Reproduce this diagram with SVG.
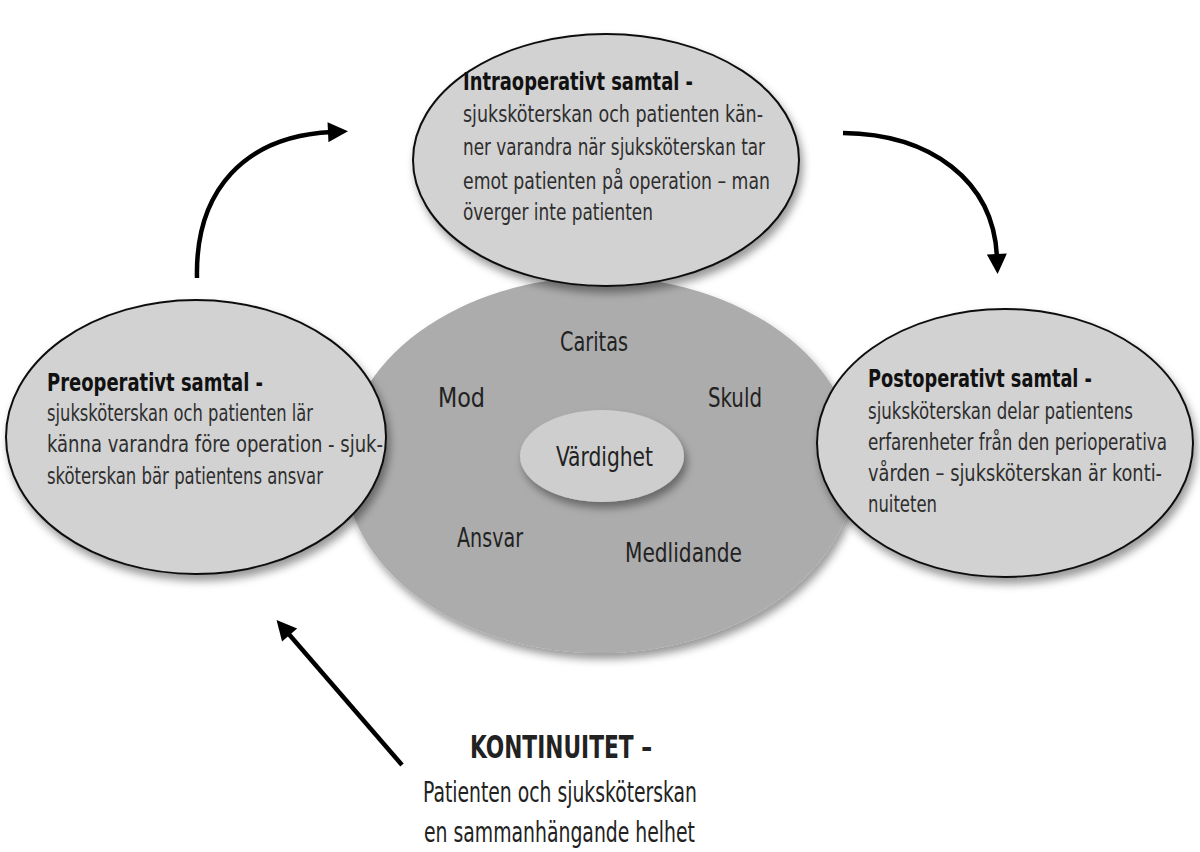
<svg xmlns="http://www.w3.org/2000/svg" width="1200" height="852" viewBox="0 0 1200 852">
  <defs>
    <filter id="shadow" x="-20%" y="-20%" width="150%" height="150%">
      <feDropShadow dx="3" dy="6" stdDeviation="4" flood-color="#000" flood-opacity="0.4"/>
    </filter>
    <marker id="head" viewBox="0 0 10 10" refX="2" refY="5" markerWidth="22" markerHeight="20" markerUnits="userSpaceOnUse" orient="auto">
      <path d="M0,0 L10,5 L0,10 Z" fill="#000"/>
    </marker>
    <style>
      .stage { fill: #d2d2d2; stroke: #111; stroke-width: 2; filter: url(#shadow); }
      .core { fill: #acacac; filter: url(#shadow); }
      .heart { fill: #cecece; filter: url(#shadow); }
      text { font-family: "Liberation Sans Narrow", "DejaVu Sans Condensed", "Liberation Sans", sans-serif; }
      .title { font-size: 25px; fill: #111; font-weight: 600; }
      .body { font-size: 23px; fill: #2e2e2e; }
      .value { font-size: 27px; fill: #222; }
      .big { font-size: 32px; fill: #222; font-weight: 700; }
      .sub { font-size: 29px; fill: #222; }
      .arrow { fill: none; stroke: #000; stroke-width: 4.5; stroke-linecap: butt; marker-end: url(#head); }
    </style>
  </defs>

  <rect width="1200" height="852" fill="#fff"/>

  <!-- central field of values -->
  <g id="values">
    <ellipse class="core" cx="600" cy="465" rx="256" ry="188"/>
    <text class="value" x="560" y="351" textLength="68" lengthAdjust="spacingAndGlyphs">Caritas</text>
    <text class="value" x="438" y="407" textLength="47" lengthAdjust="spacingAndGlyphs">Mod</text>
    <text class="value" x="708" y="407" textLength="54" lengthAdjust="spacingAndGlyphs">Skuld</text>
    <text class="value" x="457" y="547" textLength="66" lengthAdjust="spacingAndGlyphs">Ansvar</text>
    <text class="value" x="625" y="562" textLength="117" lengthAdjust="spacingAndGlyphs">Medlidande</text>
  </g>

  <g id="vardighet">
    <ellipse class="heart" cx="602" cy="456" rx="82" ry="46"/>
    <text class="value" x="556" y="466" textLength="97" lengthAdjust="spacingAndGlyphs">Värdighet</text>
  </g>

  <!-- three conversation stages -->
  <g id="preoperativt">
    <ellipse class="stage" cx="196" cy="437" rx="190" ry="137"/>
    <text class="title" x="47" y="391" textLength="216" lengthAdjust="spacingAndGlyphs">Preoperativt samtal -</text>
    <text class="body" x="47" y="421" textLength="266" lengthAdjust="spacingAndGlyphs">sjuksköterskan och patienten lär</text>
    <text class="body" x="47" y="452" textLength="336" lengthAdjust="spacingAndGlyphs">känna varandra före operation - sjuk-</text>
    <text class="body" x="47" y="484" textLength="276" lengthAdjust="spacingAndGlyphs">sköterskan bär patientens ansvar</text>
  </g>

  <g id="intraoperativt">
    <ellipse class="stage" cx="606" cy="160" rx="193" ry="126"/>
    <text class="title" x="463" y="90" textLength="230" lengthAdjust="spacingAndGlyphs">Intraoperativt samtal -</text>
    <text class="body" x="463" y="122" textLength="300" lengthAdjust="spacingAndGlyphs">sjuksköterskan och patienten kän-</text>
    <text class="body" x="463" y="155" textLength="302" lengthAdjust="spacingAndGlyphs">ner varandra när sjuksköterskan tar</text>
    <text class="body" x="463" y="189" textLength="307" lengthAdjust="spacingAndGlyphs">emot patienten på operation – man</text>
    <text class="body" x="463" y="220" textLength="190" lengthAdjust="spacingAndGlyphs">överger inte patienten</text>
  </g>

  <g id="postoperativt">
    <ellipse class="stage" cx="1005" cy="443" rx="188" ry="134"/>
    <text class="title" x="868" y="387" textLength="224" lengthAdjust="spacingAndGlyphs">Postoperativt samtal -</text>
    <text class="body" x="868" y="419" textLength="265" lengthAdjust="spacingAndGlyphs">sjuksköterskan delar patientens</text>
    <text class="body" x="868" y="450" textLength="299" lengthAdjust="spacingAndGlyphs">erfarenheter från den perioperativa</text>
    <text class="body" x="868" y="481" textLength="294" lengthAdjust="spacingAndGlyphs">vården – sjuksköterskan är konti-</text>
    <text class="body" x="868" y="512" textLength="69" lengthAdjust="spacingAndGlyphs">nuiteten</text>
  </g>

  <g id="kontinuitet">
    <text class="big" x="470" y="758" textLength="182" lengthAdjust="spacingAndGlyphs">KONTINUITET –</text>
    <text class="sub" x="423" y="802" textLength="274" lengthAdjust="spacingAndGlyphs">Patienten och sjuksköterskan</text>
    <text class="sub" x="424" y="842" textLength="271" lengthAdjust="spacingAndGlyphs">en sammanhängande helhet</text>
  </g>

  <!-- connectors -->
  <g id="connectors">
    <path class="arrow" d="M197,278 C195,190 245,136 332,132"/>
    <path class="arrow" d="M843,133 C930,134 994,180 997,258"/>
    <path class="arrow" d="M402,765 L287,632"/>
  </g>
</svg>
